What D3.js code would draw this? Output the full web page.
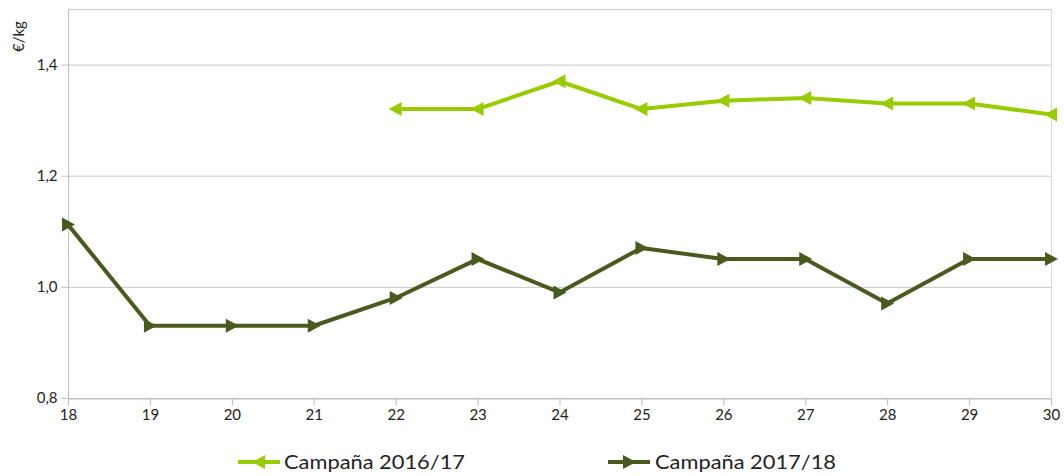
<!DOCTYPE html>
<html><head><meta charset="utf-8">
<script src="https://cdn.jsdelivr.net/npm/d3@7"></script>
<style>body{margin:0;background:#fff}svg{display:block}text{font-family:"Lato","Noto Sans",sans-serif;fill:#222}</style>
</head><body>
<svg id="c" width="1064" height="476"></svg>
<script>
const weeks = [18,19,20,21,22,23,24,25,26,27,28,29,30];
const s1617 = [null,null,null,null,1.32,1.32,1.37,1.32,1.335,1.34,1.33,1.33,1.31];
const s1718 = [1.112,0.93,0.93,0.93,0.98,1.05,0.99,1.07,1.05,1.05,0.97,1.05,1.05];
const yTicks = [0.8,1.0,1.2,1.4];
const seriesNames = ["Campaña 2016/17","Campaña 2017/18"];
const colors = ["#99cc00","#4a5a1e"];

const svg = d3.select("#c");
const L=68, R=1051, T=9, B=398;
const x = d3.scaleLinear().domain([18,30]).range([L,R]);
const y = d3.scaleLinear().domain([0.8,1.5]).range([B,T]);
const fmt = d => d3.format(".1f")(d).replace(".",",");

// grid
svg.append("g").selectAll("line").data(yTicks.concat([1.5])).join("line")
  .attr("x1",L).attr("x2",R).attr("y1",d=>y(d)+0.5).attr("y2",d=>y(d)+0.5)
  .attr("stroke","#c8c8c8").attr("stroke-width",1);
svg.append("line").attr("x1",R+0.5).attr("x2",R+0.5).attr("y1",T).attr("y2",B).attr("stroke","#d9d9d9");

// axes
const ya = svg.append("g").attr("transform",`translate(${L+0.5},0)`)
  .call(d3.axisLeft(y).tickValues(yTicks).tickFormat(fmt).tickSize(7).tickPadding(4));
ya.select(".domain").attr("d",`M0,${T}V${B}`);
const xa = svg.append("g").attr("transform",`translate(0,${B+0.5})`)
  .call(d3.axisBottom(x).tickValues(weeks).tickFormat(d3.format("d")).tickSize(7).tickPadding(4));
[ya,xa].forEach(a=>{a.selectAll("line,.domain").attr("stroke","#bdbdbd");
  a.selectAll("text").attr("font-size",15).attr("fill","#222").style("font-family",'"Lato","Noto Sans",sans-serif');});
xa.selectAll(".tick line").attr("y1",0);

svg.append("text").attr("transform","translate(24,52) rotate(-90)").attr("font-size",15).text("€/kg");

const tri = (dir) => dir<0 ? "M-7,0L6,-7L6,7Z" : "M7,0L-6,-7L-6,7Z";
const series = [s1617,s1718];
series.forEach((s,i)=>{
  const pts = weeks.map((w,j)=>({w,v:s[j]})).filter(d=>d.v!=null);
  svg.append("path").datum(pts).attr("fill","none").attr("stroke",colors[i]).attr("stroke-width",4)
    .attr("stroke-linejoin","round")
    .attr("d",d3.line().x(d=>x(d.w)).y(d=>y(d.v)));
  svg.append("g").selectAll("path").data(pts).join("path")
    .attr("transform",d=>`translate(${x(d.w)},${y(d.v)})`)
    .attr("d",tri(i===0?-1:1)).attr("fill",colors[i]);
});

// legend
const lg = [{x:238,tx:284},{x:608,tx:655}];
lg.forEach((p,i)=>{
  svg.append("line").attr("x1",p.x).attr("x2",p.x+42).attr("y1",462).attr("y2",462).attr("stroke",colors[i]).attr("stroke-width",4);
  svg.append("path").attr("transform",`translate(${p.x+21},462)`).attr("d",tri(i===0?-1:1)).attr("fill",colors[i]);
  svg.append("text").attr("x",p.tx).attr("y",469).attr("font-size",19)
    .attr("textLength",181).attr("lengthAdjust","spacingAndGlyphs").text(seriesNames[i]);
});
</script>
</body></html>
